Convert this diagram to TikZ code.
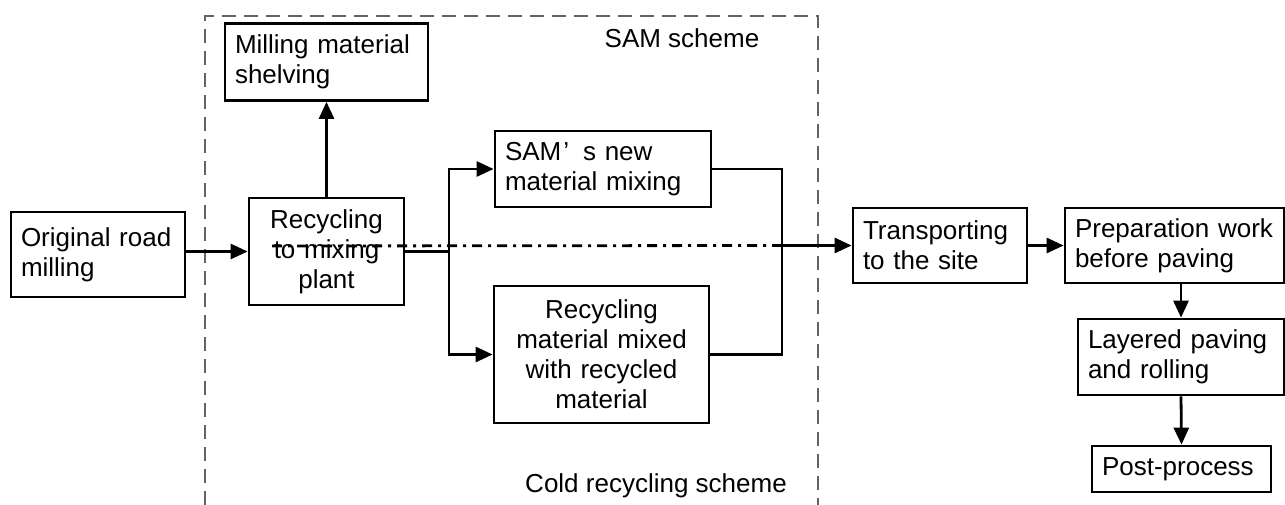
\documentclass[tikz,border=0pt]{standalone}
\usepackage{fontspec}
\setmainfont{Liberation Sans}
\usetikzlibrary{arrows.meta}
\definecolor{dashgray}{RGB}{100,100,100}
\tikzset{
  boxl/.style={draw, line width=2.8pt, align=left, inner xsep=10pt, inner ysep=2pt,
     font=\fontsize{26}{30}\selectfont},
  boxc/.style={draw, line width=2.8pt, align=center, inner xsep=6pt, inner ysep=2pt,
     font=\fontsize{26}{30}\selectfont},
  conn/.style={line width=2.8pt},
  arr/.style={line width=2.8pt, -{Triangle[length=17pt,width=15pt]}},
  lbl/.style={font=\fontsize{26}{30}\selectfont, inner sep=0pt, anchor=base},
  dashline/.style={line width=2.8pt, dash pattern=on 10pt off 6pt on 3pt off 6pt},
  frame/.style={line width=2.6pt, dashgray, dash pattern=on 14pt off 8pt}
}
\begin{document}
\begin{tikzpicture}[x=1pt,y=-1pt]
\useasboundingbox (0,0) rectangle (1285,505);
% dashed scheme frame
\coordinate (fbl) at (205,505);
\coordinate (ftl) at (205,16);
\coordinate (ftr) at (818,16);
\coordinate (fbr) at (818,505);
\draw[frame] (fbl) -- (ftl) -- (ftr) -- (fbr);

\node[boxl, text width=154pt, minimum height=85pt] (orig) at (98,254.5) {Original road\\milling};
\node[boxl, text width=183pt, minimum height=77pt] (mill) at (326.5,62) {Milling material\\shelving};
\node[boxc, text width=143pt, minimum height=107pt] (rec) at (326.5,251.5) {Recycling\\to mixing\\plant};
\node[boxl, text width=196pt, minimum height=76pt] (sam) at (603,169) {SAM\hspace{2pt}’\hspace{14pt}s new\\material mixing};
\node[boxc, text width=203pt, minimum height=137pt] (rmix) at (601.5,354.5) {Recycling\\material mixed\\with recycled\\material};
\node[boxl, text width=154pt, minimum height=75pt] (trans) at (940,245.5) {Transporting\\to the site};
\node[boxl, text width=199pt, minimum height=75pt] (prep) at (1174.5,245.5) {Preparation work\\before paving};
\node[boxl, text width=186pt, minimum height=76pt] (lay) at (1181,357) {Layered paving\\and rolling};
\node[boxl, text width=159pt, minimum height=46pt] (post) at (1181.5,469) {Post-process};

\node[lbl] (samlbl) at (682,48) {SAM scheme};
\node[lbl] (coldlbl) at (656,492) {Cold recycling scheme};

% connectors
\coordinate (split) at (449,251.5);
\coordinate (join) at (782,245.5);
\coordinate (dstart) at (272,246);
\draw[arr] (orig.east |- rec.west) -- (rec.west);
\draw[arr] (rec.north) -- (mill.south);
\draw[conn] (rec.east) -- (split);
\draw[arr] (split) |- (sam.west);
\draw[arr] (split) |- (rmix.west);
\draw[conn] (sam.east) -| (join);
\draw[conn] (rmix.east) -| (join);
\draw[dashline] (dstart) -- (join);
\draw[arr] (join) -- (trans.west |- join);
\draw[arr] (trans.east) -- (prep.west);
\draw[arr] (prep.south -| lay.north) -- (lay.north);
\draw[arr] (lay.south) -- (post.north);
\end{tikzpicture}
\end{document}
